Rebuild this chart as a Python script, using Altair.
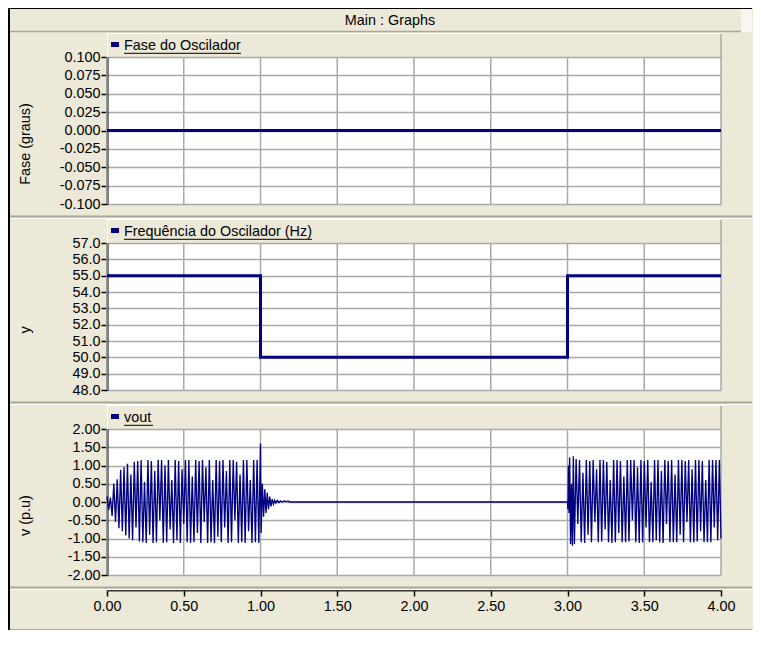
import altair as alt
import pandas as pd

# ---------------- data ----------------
x_ticks = [0.0, 0.5, 1.0, 1.5, 2.0, 2.5, 3.0, 3.5, 4.0]
phase_ticks = [-0.1, -0.075, -0.05, -0.025, 0.0, 0.025, 0.05, 0.075, 0.1]
freq_ticks = [48, 49, 50, 51, 52, 53, 54, 55, 56, 57]
vout_ticks = [-2.0, -1.5, -1.0, -0.5, 0.0, 0.5, 1.0, 1.5, 2.0]

phase_t = [0.0, 4.0]
phase_v = [0.0, 0.0]

freq_t = [0.0, 1.0, 1.0, 3.0, 3.0, 4.0]
freq_v = [55.0, 55.0, 50.0, 50.0, 55.0, 55.0]

# vout: alternating extremes
vout_a_step = 1 / 90
vout_a = [0.15, -0.22, 0.12, -0.38, 0.5, -0.55, 0.62, -0.72, 0.88, -0.8,
          0.95, -0.92, 1.05, -1.0, 0.75, -1.05, 1.1, -0.7, 1.12, -1.08,
          1.15, -1.1, 0.55, -1.12, 1.15, -0.9, 1.12, -1.12, 0.85, -1.1,
          1.16, -0.5, 1.15, -1.12, 1.0, -1.1, 1.15, -0.75, 0.6, -1.12,
          1.15, -1.05, 1.12, -1.12, 0.9, -0.6, 1.15, -1.1, 1.15, -1.12,
          0.7, -1.1, 1.15, -0.85, 1.12, -1.12, 1.15, -0.55, 0.95, -1.12,
          1.15, -1.1, 0.6, -1.12, 1.15, -0.95, 1.12, -1.1, 1.15, -0.7,
          0.85, -1.12, 1.15, -1.1, 1.15, -0.5, 1.1, -1.12, 0.75, -1.1,
          1.15, -1.12, 1.15, -0.8, 0.6, -1.12, 1.15, -1.1, 1.15, -1.12]
decay_t = [1.0, 1.004, 1.012, 1.02, 1.028, 1.036, 1.044, 1.052, 1.06, 1.068,
           1.076, 1.084, 1.092, 1.1, 1.11, 1.12, 1.13, 1.14, 1.155, 1.165,
           1.18, 1.19, 3.0]
decay_v = [1.6, -0.85, 0.5, -0.4, 0.35, -0.3, 0.25, -0.2, 0.15, -0.12,
           0.08, -0.06, 0.05, -0.03, 0.04, -0.02, 0.03, 0.0, 0.03, 0.01,
           0.03, 0.0, 0.0]
restart_t = [3.003, 3.006, 3.01, 3.014, 3.02, 3.026, 3.032, 3.038]
restart_v = [-0.2, 1.0, -0.3, 1.22, -1.15, 0.5, -1.2, 1.25]
vout_b_start = 3.045
vout_b_step = 1 / 90
vout_b = [-1.15, 1.18, -0.6, 1.15, -1.1, 0.8, -1.12, 1.15, -0.9, 1.12,
          -1.1, 1.15, -0.55, 0.9, -1.1, 1.15, -1.08, 1.15, -0.75, 1.1,
          -1.1, 0.6, -1.12, 1.15, -1.1, 1.15, -0.85, 1.12, -1.1, 0.7,
          -1.1, 1.15, -1.08, 1.15, -0.5, 1.15, -1.1, 0.95, -1.12, 1.15,
          -1.1, 1.12, -0.7, 1.15, -1.1, 0.55, -1.1, 1.15, -1.05, 1.15,
          -1.1, 0.85, -1.12, 1.15, -0.6, 1.12, -1.1, 1.15, -1.1, 0.75,
          -1.1, 1.15, -0.9, 1.15, -1.1, 1.12, -0.55, 1.15, -1.1, 0.9,
          -1.1, 1.15, -1.08, 1.15, -0.8, 1.12, -1.1, 0.6, -1.1, 1.15,
          -1.1, 1.15, -0.7, 1.15, -1.05, 1.15]
end_t = [4.0]
end_v = [-1.0]

title_text = "Main : Graphs"
legend_labels = ["Fase do Oscilador", "Frequência do Oscilador (Hz)", "vout"]
y_titles = ["Fase (graus)", "y", "v (p.u)"]

# ---------------- build tables ----------------
vt = [i * vout_a_step for i in range(len(vout_a))] + decay_t + restart_t \
    + [vout_b_start + i * vout_b_step for i in range(len(vout_b))] + end_t
vv = vout_a + decay_v + restart_v + vout_b + end_v

phase_df = pd.DataFrame({"t": phase_t, "v": phase_v, "i": range(len(phase_t))})
freq_df = pd.DataFrame({"t": freq_t, "v": freq_v, "i": range(len(freq_t))})
vout_df = pd.DataFrame({"t": vt, "v": vv, "i": range(len(vt))})
grid_df = pd.DataFrame({"t": x_ticks})
one = pd.DataFrame({"k": [0]})

# ---------------- styles ----------------
FONT = "Liberation Sans"
FS = 14.4
BG = "#ECE9D8"
DARK = "#ACA899"
NAVY = "#000080"
GRID = "#A9A9A9"
W = 614
RIGHT = 645
UNDERLINE = [117, 188, 29]


def rect(x, x2, y, y2, color):
    return alt.Chart(one).mark_rect(color=color).encode(
        x=alt.value(x), x2=alt.value(x2), y=alt.value(y), y2=alt.value(y2))


def hline(x, x2, y, color, w=1):
    return alt.Chart(one).mark_rule(color=color, strokeWidth=w).encode(
        x=alt.value(x), x2=alt.value(x2), y=alt.value(y))


def vline(x, y, y2, color, w=1):
    return alt.Chart(one).mark_rule(color=color, strokeWidth=w).encode(
        x=alt.value(x), y=alt.value(y), y2=alt.value(y2))


def panel(k, df, dom, ticks, fmt, h, line_w, show_x):
    if show_x:
        xaxis = alt.Axis(values=x_ticks, format=".2f", offset=15, grid=False, title=None,
                         labelFlush=False, labelOverlap=False, domainColor="#333333",
                         labelPadding=3)
    else:
        xaxis = None
    xenc = alt.X("t:Q", scale=alt.Scale(domain=[0, 4], nice=False, zero=False), axis=xaxis)
    lexpr = "(datum.value < 0 ? '-' : '') + format(abs(datum.value), '%s')" % fmt
    yenc = alt.Y("v:Q", scale=alt.Scale(domain=dom, nice=False, zero=False),
                 axis=alt.Axis(values=ticks, labelExpr=lexpr, title=y_titles[k],
                               titleX=-82, titleY=h / 2 + 13, titleAngle=270,
                               titleBaseline="middle", titleAlign="center",
                               grid=True, labelOverlap=False))
    layers = []
    # chrome
    if k == 0:
        layers += [
            rect(-99, RIGHT, -49, -48, "black"),
            rect(634, RIGHT, -48, -25, "#F7F6F0"),
            hline(-97, 634, -25.5, DARK, 1.5),
            rect(-99, -97, -49, h + 40, "black"),
        ]
    elif k == 1:
        layers += [rect(-99, -97, -40, h + 40, "black")]
    else:
        layers += [rect(-99, -97, -40, h + 55, "black"),
                   hline(-97, RIGHT, h + 54.5, DARK, 1)]
    layers += [
        hline(-97, RIGHT, h + 12.5, DARK, 2),
        hline(-97, RIGHT, h + 14.5, "white", 1),
        hline(0, W, -23.5, "white", 1),
        vline(0.5, -23, 0, "white", 1),
        vline(W, -23, 0, DARK, 1.5),
        rect(4, 12, -15, -10, NAVY),
        alt.Chart(one).mark_text(align="left", baseline="middle", font=FONT,
                                 fontSize=FS, color="black").encode(
            x=alt.value(17), y=alt.value(-11), text=alt.value(legend_labels[k])),
        hline(17, 17 + UNDERLINE[k], -3.7, "black", 1),
    ]
    if k == 0:
        layers.append(alt.Chart(one).mark_text(align="center", baseline="middle", font=FONT,
                                               fontSize=FS, color="black").encode(
            x=alt.value(283), y=alt.value(-36.5), text=alt.value(title_text)))
    layers += [
        alt.Chart(grid_df).mark_rule(color=GRID, strokeWidth=1.5).encode(
            x=xenc, y=alt.value(0), y2=alt.value(h)),
        alt.Chart(df).mark_line(color=NAVY, strokeWidth=line_w).encode(
            x=xenc, y=yenc, order=alt.Order("i:Q")),
    ]
    return alt.layer(*layers).properties(width=W, height=h)


p1 = panel(0, phase_df, [-0.1, 0.1], phase_ticks, ".3f", 147, 3, False)
p2 = panel(1, freq_df, [48, 57], freq_ticks, ".1f", 147, 3, False)
p3 = panel(2, vout_df, [-2, 2], vout_ticks, ".2f", 146, 1.35, True)

chart = alt.vconcat(p1, p2, p3, spacing=39, bounds="flush").properties(
    padding=0, background=BG
).configure_view(stroke=None, fill="white").configure_axis(
    labelFont=FONT, labelFontSize=FS, labelColor="black",
    titleFont=FONT, titleFontSize=FS, titleFontWeight="normal", titleColor="black",
    domainColor="black", domainWidth=2, tickColor="black", tickWidth=1.5, tickSize=6,
    gridColor=GRID, gridWidth=1.5, labelPadding=1,
)

chart.save("out.html", embed_options={"renderer": "svg", "actions": False})
